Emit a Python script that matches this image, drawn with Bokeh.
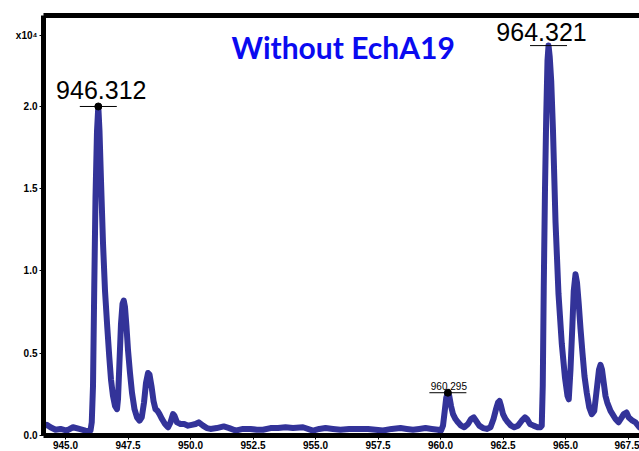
from bokeh.plotting import figure
from bokeh.models import Range1d, LinearAxis, FixedTicker, Label, ColumnDataSource, CustomJSTickFormatter
from bokeh.core.properties import value
from bokeh.embed import file_html
from bokeh.resources import INLINE

# Mass spectrum profile (m/z, intensity in units of 1e4)
mz = [
    944.12, 944.25, 944.40, 944.60, 944.80, 945.05, 945.30, 945.55, 945.80, 945.95,
    946.00, 946.05, 946.10, 946.15, 946.20, 946.26, 946.312, 946.36, 946.42, 946.50,
    946.58, 946.67, 946.75, 946.82, 946.90, 946.98, 947.06,
    947.10, 947.16, 947.22, 947.28, 947.33, 947.38, 947.44, 947.50, 947.58, 947.66,
    947.76, 947.86, 947.96,
    948.05, 948.14, 948.22, 948.30, 948.36, 948.44, 948.52, 948.60, 948.68, 948.76,
    948.86, 948.98, 949.10, 949.20, 949.30, 949.36, 949.46, 949.60, 949.75, 949.90,
    950.05, 950.20, 950.33, 950.50, 950.65, 950.80,
    951.05, 951.33, 951.55, 951.80, 952.10, 952.40, 952.65, 952.90, 953.20, 953.50,
    953.80, 954.10, 954.50, 954.90, 955.15, 955.40, 955.70, 956.00, 956.35, 956.70,
    957.10, 957.40, 957.70, 958.05, 958.40, 958.65, 958.90, 959.15, 959.40, 959.65,
    959.90, 960.02,
    960.10, 960.17, 960.23, 960.295, 960.35, 960.42, 960.50, 960.60, 960.70, 960.82,
    960.95, 961.10, 961.22, 961.33, 961.42, 961.55, 961.70, 961.85, 962.00, 962.12,
    962.22, 962.30, 962.36, 962.42, 962.50, 962.60, 962.70, 962.82, 962.95, 963.10,
    963.25, 963.38, 963.46, 963.58, 963.72, 963.88, 964.00, 964.05,
    964.09, 964.13, 964.18, 964.23, 964.28, 964.321, 964.37, 964.43, 964.50, 964.60,
    964.72, 964.85, 964.98, 965.08, 965.13,
    965.20, 965.27, 965.33, 965.40, 965.46, 965.53, 965.60, 965.68, 965.76, 965.85,
    965.95, 966.05,
    966.15, 966.22, 966.28, 966.34, 966.40, 966.46, 966.53, 966.60, 966.67, 966.80,
    967.00, 967.12, 967.25, 967.33, 967.44, 967.53, 967.68, 967.80, 967.96,
]
intensity = [
    0.060, 0.065, 0.050, 0.035, 0.040, 0.030, 0.050, 0.040, 0.030, 0.025,
    0.030, 0.080, 0.300, 0.900, 1.450, 1.850, 2.000, 1.850, 1.550, 1.170,
    0.880, 0.660, 0.480, 0.340, 0.240, 0.180, 0.160,
    0.220, 0.450, 0.680, 0.800, 0.820, 0.780, 0.660, 0.520, 0.380, 0.260,
    0.160, 0.110, 0.090,
    0.110, 0.200, 0.320, 0.380, 0.370, 0.300, 0.210, 0.160, 0.150, 0.130,
    0.100, 0.070, 0.050, 0.080, 0.130, 0.120, 0.080, 0.070, 0.070, 0.060,
    0.065, 0.070, 0.080, 0.060, 0.045, 0.040,
    0.045, 0.055, 0.045, 0.030, 0.040, 0.040, 0.035, 0.035, 0.045, 0.045,
    0.050, 0.045, 0.050, 0.030, 0.040, 0.045, 0.040, 0.035, 0.040, 0.040,
    0.040, 0.035, 0.030, 0.040, 0.045, 0.040, 0.035, 0.040, 0.045, 0.040,
    0.035, 0.030,
    0.060, 0.150, 0.230, 0.260, 0.240, 0.180, 0.130, 0.100, 0.080, 0.060,
    0.050, 0.070, 0.100, 0.110, 0.090, 0.060, 0.045, 0.040, 0.050, 0.100,
    0.160, 0.200, 0.210, 0.180, 0.130, 0.100, 0.080, 0.060, 0.050, 0.060,
    0.090, 0.110, 0.100, 0.070, 0.060, 0.050, 0.050, 0.060,
    0.300, 0.900, 1.500, 1.950, 2.280, 2.370, 2.300, 2.150, 1.850, 1.300,
    0.860, 0.560, 0.350, 0.240, 0.220,
    0.400, 0.650, 0.880, 0.980, 0.930, 0.800, 0.650, 0.500, 0.360, 0.260,
    0.170, 0.130,
    0.150, 0.240, 0.320, 0.400, 0.430, 0.400, 0.320, 0.240, 0.200, 0.150,
    0.100, 0.080, 0.110, 0.130, 0.140, 0.110, 0.090, 0.080, 0.050,
]

# Labelled peaks
peak_mz = [946.312, 960.295, 964.321]
peak_int = [2.0, 0.26, 2.37]
peak_text = ["946.312", "960.295", "964.321"]
peak_dot = [True, True, False]

x_ticks = [945.0, 947.5, 950.0, 952.5, 955.0, 957.5, 960.0, 962.5, 965.0, 967.5]
y_ticks = [0.0, 0.5, 1.0, 1.5, 2.0]
scale_tick = 2.43          # where the axis multiplier is written
scale_text = "x10\u2074"

# label styling per peak: font size, pixel offsets
lab_size = ["25px", "10px", "25px"]
lab_dx = [3, 1, -7]
lab_dy = [-16, -6.5, -13.5]
bar_half = 0.74

TRACE = "#333399"
FONT = "Liberation Sans"

p = figure(width=639, height=451, output_backend="svg", toolbar_location=None,
           x_range=Range1d(944.12, 967.96), y_range=Range1d(0.0, 2.553),
           min_border_left=43, min_border_right=0, min_border_top=15, min_border_bottom=15,
           x_axis_location="below", y_axis_location="left")
p.background_fill_color = "white"
p.border_fill_color = "white"
p.outline_line_color = None
p.grid.visible = False

xa, ya = p.xaxis[0], p.yaxis[0]
xa.ticker = FixedTicker(ticks=x_ticks, minor_ticks=[round(944.0 + 0.5 * i, 2) for i in range(50)])
ya.ticker = FixedTicker(ticks=y_ticks + [scale_tick], minor_ticks=[round(0.1 * i, 2) for i in range(27)])
for ax in (xa, ya):
    ax.axis_line_width = 5
    ax.axis_line_color = "black"
    ax.major_tick_in = 0
    ax.major_tick_out = 4
    ax.minor_tick_in = 0
    ax.minor_tick_out = 2
    ax.major_tick_line_width = 1
    ax.minor_tick_line_width = 1
    ax.major_label_text_font = FONT
    ax.major_label_text_font_style = "bold"
    ax.major_label_text_font_size = "10px"
    ax.major_label_text_color = "black"
xa.major_label_standoff = 1
ya.major_label_standoff = 2
xa.formatter = CustomJSTickFormatter(code="return tick.toFixed(1);")
ya.formatter = CustomJSTickFormatter(args=dict(st=scale_tick, txt=scale_text),
                                     code="return Math.abs(tick - st) < 1e-6 ? txt : tick.toFixed(1);")

# top border of the frame
top = LinearAxis(ticker=FixedTicker(ticks=[]), axis_line_width=5, axis_line_color="black",
                 major_tick_out=0, major_tick_in=0, minor_tick_out=0, minor_tick_in=0,
                 major_label_text_font_size="0px", major_label_standoff=0)
p.add_layout(top, "above")

p.line(mz, intensity, line_color=TRACE, line_width=6, line_join="round", line_cap="round")

# peak annotations
src = ColumnDataSource(dict(x=peak_mz, y=peak_int, t=peak_text, size=lab_size,
                            dx=lab_dx, dy=lab_dy,
                            x0=[m - bar_half for m in peak_mz], x1=[m + bar_half for m in peak_mz]))
p.segment(x0="x0", y0="y", x1="x1", y1="y", source=src, line_color="black", line_width=1)
dots = ColumnDataSource(dict(x=[m for m, d in zip(peak_mz, peak_dot) if d],
                             y=[v for v, d in zip(peak_int, peak_dot) if d]))
p.scatter(x="x", y="y", source=dots, size=7, color="black")
p.text(x="x", y="y", text="t", source=src, text_font=value(FONT), text_font_size="size",
       x_offset="dx", y_offset="dy", text_align="center", text_baseline="middle",
       text_color="black")

p.add_layout(Label(x=951.64, y=2.359, text="Without EchA19", text_font="Lato",
                   text_font_style="bold", text_font_size="30px", text_color="#0A0AF0",
                   text_baseline="middle"))

open("out.html", "w").write(file_html(p, INLINE))
